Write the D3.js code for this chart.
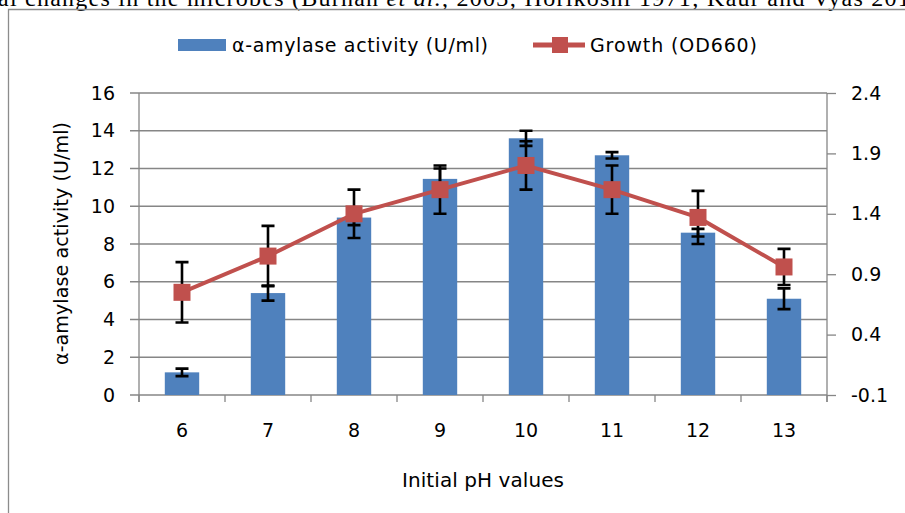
<!DOCTYPE html>
<html>
<head>
<meta charset="utf-8">
<script src="https://cdn.jsdelivr.net/npm/d3@7"></script>
<style>
  html, body { margin: 0; padding: 0; background: #fff; overflow: hidden; }
  svg { display: block; }
</style>
</head>
<body>
<svg id="chart" width="905" height="513"></svg>
<script>
// ---- data ----
const categories = ["6", "7", "8", "9", "10", "11", "12", "13"];
const amylase    = [1.2, 5.4, 9.4, 11.45, 13.6, 12.7, 8.6, 5.1];
const amylaseErr = [0.2, 0.4, 0.4, 0.55, 0.4, 0.17, 0.2, 0.55];
const growth     = [0.75, 1.05, 1.4, 1.6, 1.8, 1.6, 1.37, 0.96];
const growthErr  = [0.25, 0.25, 0.2, 0.2, 0.2, 0.2, 0.22, 0.15];
const leftTicks  = [0, 2, 4, 6, 8, 10, 12, 14, 16];
const rightTicks = [-0.1, 0.4, 0.9, 1.4, 1.9, 2.4];
const seriesNames = ["α-amylase activity (U/ml)", "Growth (OD660)"];
const xTitle = "Initial pH values";
const yTitle = "α-amylase activity (U/ml)";

// ---- layout ----
const svg = d3.select("#chart");
const L = 139, R = 827, T = 93, B = 395;
const BLUE = "#4F81BD", RED = "#C0504D", GRID = "#868686";
const FONT = "DejaVu Sans";

const x = d3.scaleBand().domain(categories).range([L, R]).paddingInner(0.6).paddingOuter(0.3);
const yL = d3.scaleLinear().domain([0, 16]).range([B, T]);
const yR = d3.scaleLinear().domain([-0.1, 2.4]).range([B, T]);
const cx = c => x(c) + x.bandwidth() / 2;

// clipped body text at top
const bodyText = svg.append("text")
  .attr("x", -2).attr("y", 6)
  .attr("font-family", "Liberation Serif").attr("font-size", 24)
  .attr("textLength", 925).attr("lengthAdjust", "spacing")
  .attr("fill", "#000");
bodyText.append("tspan").text("al changes in the microbes (Burhan ");
bodyText.append("tspan").attr("font-style", "italic").text("et al.");
bodyText.append("tspan").text(", 2003; Horikoshi 1971; Kaur and Vyas 2012");

// frame
svg.append("path").attr("d", "M8.5,513 V9.5 H905")
  .attr("fill", "none").attr("stroke", "#8c8c8c").attr("stroke-width", 1.3);

// gridlines (with outward left ticks)
svg.append("g").selectAll("line").data(leftTicks).join("line")
  .attr("x1", L - 9).attr("x2", R)
  .attr("y1", d => yL(d)).attr("y2", d => yL(d))
  .attr("stroke", GRID).attr("stroke-width", 1.3);

// left axis
const gL = svg.append("g").attr("transform", `translate(${L},0)`)
  .call(d3.axisLeft(yL).tickValues(leftTicks).tickSize(0).tickPadding(24).tickFormat(d3.format("d")));
gL.select(".domain").attr("stroke", GRID).attr("stroke-width", 1.3).attr("d", `M0,${T}V${B + 7}`);
gL.selectAll("text").attr("font-family", FONT).attr("font-size", 19).attr("fill", "#000");

// right axis
const fmtR = d => d3.format(".1f")(d).replace("\u2212", "-");
const gR = svg.append("g").attr("transform", `translate(${R},0)`)
  .call(d3.axisRight(yR).tickValues(rightTicks).tickSize(9).tickPadding(15).tickFormat(fmtR));
gR.select(".domain").attr("stroke", GRID).attr("stroke-width", 1.3).attr("d", `M0,${T}V${B + 7}`);
gR.selectAll(".tick line").attr("stroke", GRID).attr("stroke-width", 1.3);
gR.selectAll("text").attr("font-family", FONT).attr("font-size", 19).attr("fill", "#000");

// bottom axis
const gB = svg.append("g").attr("transform", `translate(0,${B})`)
  .call(d3.axisBottom(x).tickSize(0).tickPadding(29));
gB.select(".domain").remove();
gB.selectAll("text").attr("font-family", FONT).attr("font-size", 19).attr("fill", "#000");
const bounds = d3.range(categories.length + 1).map(i => L + i * x.step());
svg.append("g").selectAll("line").data(bounds).join("line")
  .attr("x1", d => d).attr("x2", d => d).attr("y1", B).attr("y2", B + 7)
  .attr("stroke", GRID).attr("stroke-width", 1.3);

// bars
svg.append("g").selectAll("rect").data(categories).join("rect")
  .attr("x", c => x(c)).attr("width", x.bandwidth())
  .attr("y", (c, i) => yL(amylase[i])).attr("height", (c, i) => B - yL(amylase[i]))
  .attr("fill", BLUE);

// error bar helper
function errBars(scale, vals, errs) {
  const g = svg.append("g").attr("stroke", "#000").attr("stroke-width", 2.6).attr("fill", "none");
  categories.forEach((c, i) => {
    const xc = cx(c), y1 = scale(vals[i] + errs[i]), y2 = scale(vals[i] - errs[i]);
    g.append("path").attr("d", `M${xc},${y1}V${y2}M${xc - 6.5},${y1}H${xc + 6.5}M${xc - 6.5},${y2}H${xc + 6.5}`);
  });
}
errBars(yL, amylase, amylaseErr);
errBars(yR, growth, growthErr);

// growth line
svg.append("path")
  .datum(categories)
  .attr("d", d3.line().x(c => cx(c)).y((c, i) => yR(growth[i])))
  .attr("fill", "none").attr("stroke", RED).attr("stroke-width", 4);
svg.append("g").selectAll("rect").data(categories).join("rect")
  .attr("x", c => cx(c) - 8.5).attr("y", (c, i) => yR(growth[i]) - 8.5)
  .attr("width", 17).attr("height", 17).attr("fill", RED);

// axis titles
svg.append("text").attr("x", (L + R) / 2).attr("y", 487).attr("text-anchor", "middle")
  .attr("font-family", FONT).attr("font-size", 20).attr("textLength", 162).attr("fill", "#000")
  .text(xTitle);
svg.append("text").attr("transform", "translate(68,243.5) rotate(-90)").attr("text-anchor", "middle")
  .attr("font-family", FONT).attr("font-size", 19).attr("textLength", 243).attr("fill", "#000")
  .text(yTitle);

// legend
const lg = svg.append("g");
lg.append("rect").attr("x", 178).attr("y", 39).attr("width", 48).attr("height", 12).attr("fill", BLUE);
lg.append("text").attr("x", 232).attr("y", 52).attr("font-family", FONT).attr("font-size", 19)
  .attr("textLength", 256).attr("fill", "#000").text(seriesNames[0]);
lg.append("line").attr("x1", 533).attr("x2", 585).attr("y1", 45).attr("y2", 45)
  .attr("stroke", RED).attr("stroke-width", 5);
lg.append("rect").attr("x", 552).attr("y", 37).attr("width", 16).attr("height", 16).attr("fill", RED);
lg.append("text").attr("x", 590).attr("y", 52).attr("font-family", FONT).attr("font-size", 19)
  .attr("textLength", 167).attr("fill", "#000").text(seriesNames[1]);
</script>
</body>
</html>
